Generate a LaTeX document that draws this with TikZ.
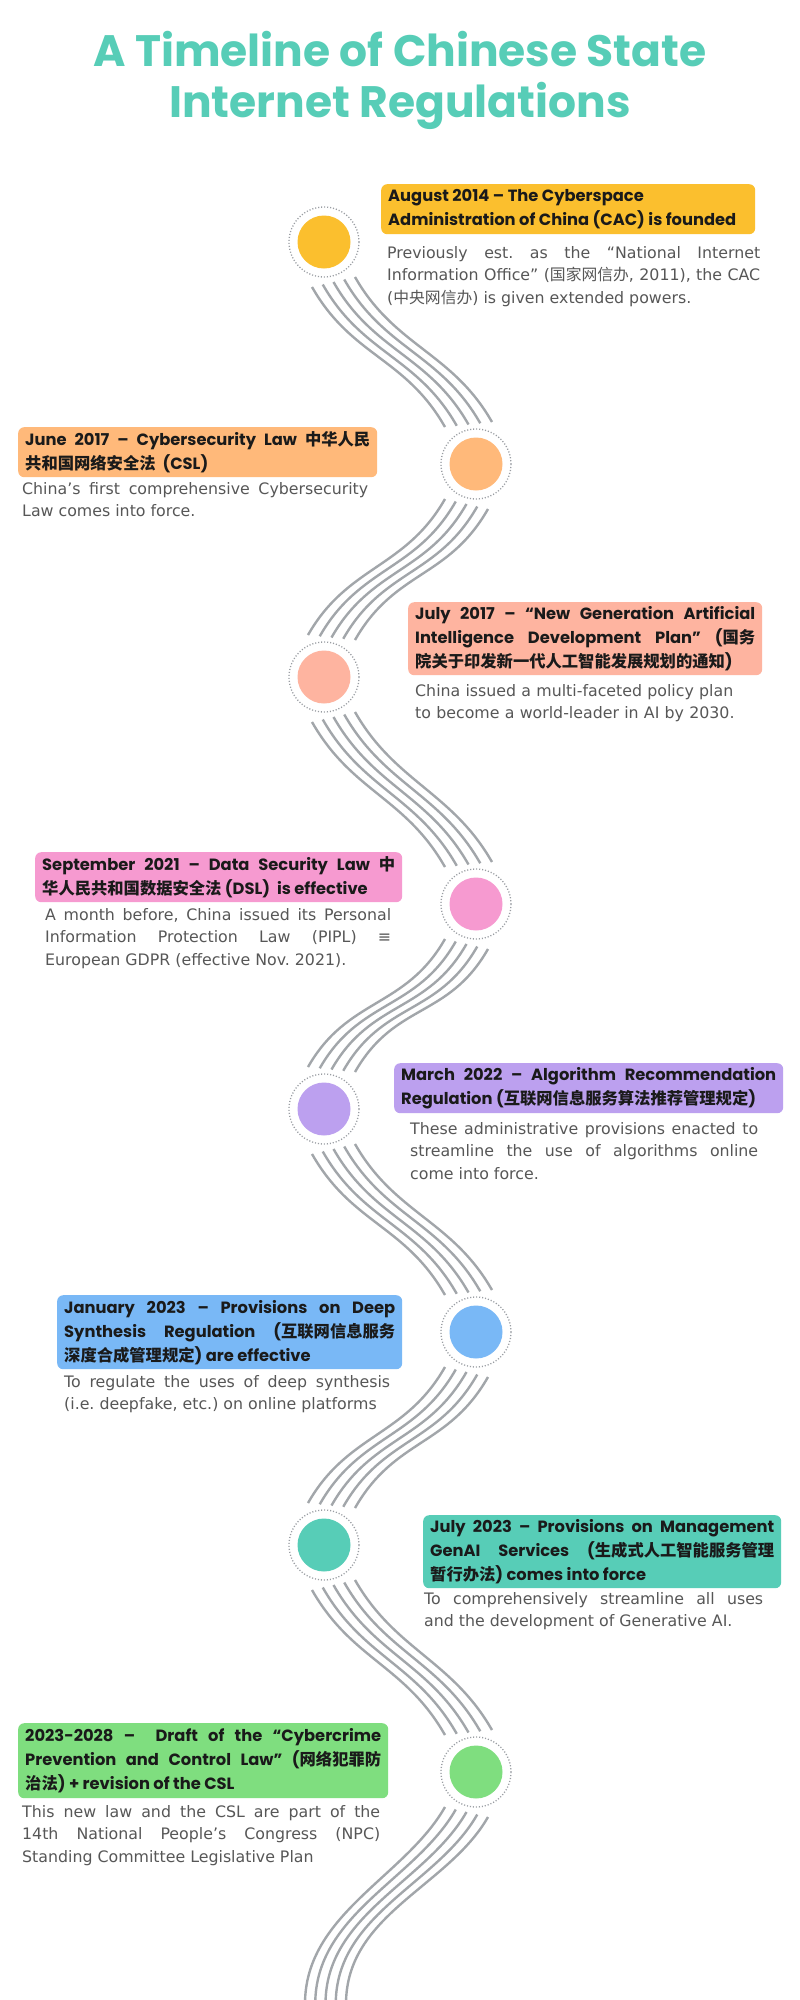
\documentclass[tikz,border=0pt]{standalone}
\usepackage{fontspec}
\usetikzlibrary{calc}
\setmainfont{DejaVu Sans}
\newfontfamily\headfont{Poppins}
\newfontfamily\cjk{Noto Sans CJK SC}
\newcommand\zh[1]{{\cjk #1}}
\frenchspacing
\definecolor{titlecol}{HTML}{57CDB7}
\definecolor{headtext}{HTML}{1A1A1A}
\definecolor{bodycol}{HTML}{575757}
\definecolor{linecol}{HTML}{A2A6AA}
\definecolor{ringcol}{HTML}{9A9EA3}
\definecolor{cA}{HTML}{FBBF2E}
\definecolor{cB}{HTML}{FFB97A}
\definecolor{cC}{HTML}{FEB4A0}
\definecolor{cD}{HTML}{F69AD0}
\definecolor{cE}{HTML}{BCA0EF}
\definecolor{cF}{HTML}{79B8F6}
\definecolor{cG}{HTML}{57CDB7}
\definecolor{cH}{HTML}{7FDE7F}
\tikzset{
  headbox/.style={anchor=north west, rounded corners=6pt, inner xsep=7pt, inner ysep=0pt,
    align=justify, text=headtext, font=\headfont\bfseries\fontsize{16.3}{24}\selectfont\frenchspacing},
  bodytext/.style={anchor=north west, inner sep=0pt, align=justify, text=bodycol,
    font=\fontsize{15.8}{22.5}\selectfont\frenchspacing},
  dotnode/.style={circle, inner sep=0pt, minimum size=53pt},
  ring/.style={draw=ringcol, line width=1.3pt, dash pattern=on 1.1pt off 1.9pt},
  bundle/.style={draw=linecol, line width=2.4pt},
  titletext/.style={anchor=base, text=titlecol, font=\headfont\bfseries\fontsize{44}{51}\selectfont}
}
\newcommand\bundleright[2]{%
  \foreach \i in {0,...,4}{%
    \pgfmathsetmacro\sx{-12+10.75*\i}\pgfmathsetmacro\sy{45-2.5*\i}%
    \pgfmathsetmacro\ex{-31+11.75*\i}\pgfmathsetmacro\ey{-37-1.25*\i}%
    \draw[bundle] ($(#1.center)+(\sx,\sy)$) .. controls ($(#1.center)+(\sx+40,\sy+70)$) and ($(#2.center)+(\ex-40,\ey-70)$) .. ($(#2.center)+(\ex,\ey)$);
  }}
\newcommand\bundleleft[2]{%
  \foreach \i in {0,...,4}{%
    \pgfmathsetmacro\sx{12-10.75*\i}\pgfmathsetmacro\sy{45-2.5*\i}%
    \pgfmathsetmacro\ex{31-11.75*\i}\pgfmathsetmacro\ey{-37-1.25*\i}%
    \draw[bundle] ($(#1.center)+(\sx,\sy)$) .. controls ($(#1.center)+(\sx-40,\sy+70)$) and ($(#2.center)+(\ex+40,\ey-70)$) .. ($(#2.center)+(\ex,\ey)$);
  }}
\begin{document}
\begin{tikzpicture}[x=1pt,y=-1pt]
\useasboundingbox (0,0) rectangle (800,2000);
\fill[white] (0,0) rectangle (800,2000);

% title
\node[titletext] (t1) at (400,66) {A Timeline of Chinese State};
\node[titletext] (t2) at (400,117) {Internet Regulations};

% circles
\node[dotnode, fill=cA] (n1) at (324,242) {};
\node[dotnode, fill=cB] (n2) at (476,464) {};
\node[dotnode, fill=cC] (n3) at (324,677) {};
\node[dotnode, fill=cD] (n4) at (476,904) {};
\node[dotnode, fill=cE] (n5) at (324,1109) {};
\node[dotnode, fill=cF] (n6) at (476,1332) {};
\node[dotnode, fill=cG] (n7) at (324,1545) {};
\node[dotnode, fill=cH] (n8) at (476,1772) {};
\foreach \n in {n1,n2,n3,n4,n5,n6,n7,n8}{\draw[ring] (\n.center) circle[radius=35];}

% bundles
\bundleright{n1}{n2}
\bundleleft{n2}{n3}
\bundleright{n3}{n4}
\bundleleft{n4}{n5}
\bundleright{n5}{n6}
\bundleleft{n6}{n7}
\bundleright{n7}{n8}
\foreach \i in {0,...,4}{%
  \pgfmathsetmacro\sx{12-10.75*\i}\pgfmathsetmacro\sy{45-2.5*\i}%
  \pgfmathsetmacro\ex{346-10.25*\i}%
  \coordinate (e\i) at (\ex,2004);
  \draw[bundle] ($(n8.center)+(\sx,\sy)$) .. controls ($(n8.center)+(\sx-40,\sy+70)$) and ($(e\i)+(0,-90)$) .. (e\i);
}

% 1
\node[headbox, fill=cA, text width=360pt, minimum height=50pt] (h1) at (381,184)
  {August 2014 – The Cyberspace\\Administration of China (CAC) is founded};
\node[bodytext, text width=373pt] (b1) at (387,246)
  {Previously est. as the “National Internet\linebreak Information Office” (\zh{国家网信办}, 2011), the CAC\linebreak (\zh{中央网信办}) is given extended powers.};
% 2
\node[headbox, fill=cB, text width=345pt, minimum height=50pt] (h2) at (18,427)
  {June 2017 – Cybersecurity Law \zh{中华人民}\linebreak\zh{共和国网络安全法} ~(CSL)};
\node[bodytext, text width=346pt] (b2) at (22,482)
  {China’s first comprehensive Cybersecurity\linebreak Law comes into force.};
% 3
\node[headbox, fill=cC, text width=340pt, minimum height=73pt] (h3) at (408,602)
  {July 2017 – “New Generation Artificial\linebreak Intelligence Development Plan” (\zh{国务}\linebreak\zh{院关于印发新一代人工智能发展规划的通知})};
\node[bodytext, text width=340pt, align=left] (b3) at (415,684)
  {China issued a multi-faceted policy plan\\to become a world-leader in AI by 2030.};
% 4
\node[headbox, fill=cD, text width=353pt, minimum height=50pt] (h4) at (35,852)
  {September 2021 – Data Security Law \zh{中}\linebreak\zh{华人民共和国数据安全法} (DSL) ~is effective};
\node[bodytext, text width=346pt] (b4) at (45,908)
  {A month before, China issued its Personal\linebreak Information Protection Law (PIPL) ≡\linebreak European GDPR (effective Nov. 2021).};
% 5
\node[headbox, fill=cE, text width=375pt, minimum height=50pt] (h5) at (394,1063)
  {March 2022 – Algorithm Recommendation\linebreak Regulation (\zh{互联网信息服务算法推荐管理规定})};
\node[bodytext, text width=348pt] (b5) at (410,1122)
  {These administrative provisions enacted to\linebreak streamline the use of algorithms online\linebreak come into force.};
% 6
\node[headbox, fill=cF, text width=331pt, minimum height=74pt] (h6) at (57,1295)
  {January 2023 – Provisions on Deep\linebreak Synthesis Regulation (\zh{互联网信息服务}\linebreak\zh{深度合成管理规定}) are effective};
\node[bodytext, text width=326pt] (b6) at (64,1375)
  {To regulate the uses of deep synthesis\linebreak (i.e. deepfake, etc.) on online platforms};
% 7
\node[headbox, fill=cG, text width=344pt, minimum height=73pt] (h7) at (423,1515)
  {July 2023 – Provisions on Management\linebreak GenAI Services (\zh{生成式人工智能服务管理}\linebreak\zh{暂行办法}) comes into force};
\node[bodytext, text width=339pt] (b7) at (424,1592)
  {To comprehensively streamline all uses\linebreak and the development of Generative AI.};
% 8
\node[headbox, fill=cH, text width=356pt, minimum height=75pt] (h8) at (18,1723)
  {2023-2028 – ~Draft of the “Cybercrime\linebreak Prevention and Control Law” (\zh{网络犯罪防}\linebreak\zh{治法}) + revision of the CSL};
\node[bodytext, text width=358pt] (b8) at (22,1805)
  {This new law and the CSL are part of the\linebreak 14th National People’s Congress (NPC)\linebreak Standing Committee Legislative Plan};
\end{tikzpicture}
\end{document}
